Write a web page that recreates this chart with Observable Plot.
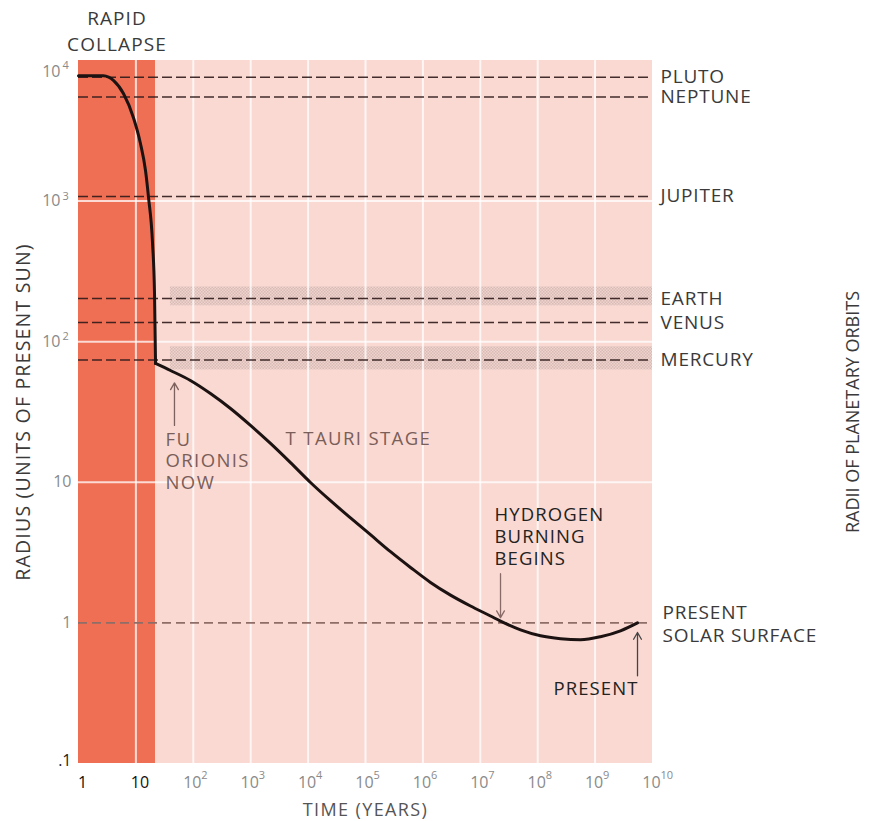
<!DOCTYPE html>
<html><head><meta charset="utf-8">
<script src="https://cdn.jsdelivr.net/npm/d3@7"></script>
<script src="https://cdn.jsdelivr.net/npm/@observablehq/plot@0.6"></script>
<style>
body{margin:0;background:#fff;}
</style></head><body><div id="chart"></div>
<script>
// ---- data ----
const phaseNames = ["RAPID\nCOLLAPSE", "CONTRACTION"];
const phaseStart = [1, 22];
const phaseEnd = [22, 1e10];

const collapseYears  = [1, 2, 2.7, 4.1, 6.1, 9.1, 12, 14.7, 16.6, 19.5, 21.1, 22];
const collapseRadius = [7800, 7800, 7780, 7200, 5800, 3900, 2570, 1650, 1060, 500, 220, 70];

const contractYears  = [22, 40, 89, 199, 445, 992, 2213, 4936, 11010, 24560, 54800, 122000, 272600, 608000, 1.357e6, 3.03e6, 6.75e6, 1.506e7, 2.25e7, 5.02e7, 1.12e8, 2.5e8, 5.57e8, 1.24e9, 2.77e9, 5.48e9];
const contractRadius = [70, 62.4, 53.0, 42.8, 33.5, 25.4, 18.9, 13.8, 9.97, 7.4, 5.58, 4.24, 3.21, 2.48, 1.94, 1.575, 1.318, 1.12, 1.03, 0.893, 0.81, 0.772, 0.759, 0.797, 0.878, 1.0];

const planets = ["PLUTO", "NEPTUNE", "JUPITER", "EARTH", "VENUS", "MERCURY"];
const orbitRadius = [7600, 5500, 1080, 203, 137, 74];

const bandNames = ["EARTH", "MERCURY"];
const bandLow = [180, 63];
const bandHigh = [245, 92];
const bandStartYears = [40, 40];

const solarSurface = [1];
const solarLabel = ["PRESENT\nSOLAR SURFACE"];

const xGridYears = [10, 1e2, 1e3, 1e4, 1e5, 1e6, 1e7, 1e8, 1e9];
const yGridRadius = [10, 100, 1000];

const xTickPlain = [1, 10];
const xTickPow = [2, 3, 4, 5, 6, 7, 8, 9, 10];
const yTickPlain = [1, 10];
const yTickPlainLabels = ["1", "10"];
const yTickDark = [0.1];
const yTickDarkLabels = [".1"];
const yTickPow = [2, 3];
const yTickTopPow = [4];

const noteMutedText = ["FU\nORIONIS\nNOW", "T TAURI STAGE"];
const noteMutedYears = [32.8, 4040];
const noteMutedRadius = [14.3, 20.8];
const noteDarkText = ["HYDROGEN\nBURNING\nBEGINS", "PRESENT"];
const noteDarkYears = [1.77e7, 1.88e8];
const noteDarkRadius = [4.18, 0.347];

const arrowYears = [47, 2.25e7, 5.48e9];
const arrowFrom = [25.4, 2.24, 0.42];
const arrowTo = [51, 1.09, 0.855];
const arrowColors = ["#7d615c", "#8a6a66", "#444444"];

const xTitle = "TIME (YEARS)";
const yTitle = "RADIUS (UNITS OF PRESENT SUN)";
const rightTitle = "RADII OF PLANETARY ORBITS";

// ---- build ----
const collapse = collapseYears.map((t, i) => ({t, r: collapseRadius[i]}));
const contract = contractYears.map((t, i) => ({t, r: contractRadius[i]}));
const bands = bandNames.map((n, i) => ({n, lo: bandLow[i], hi: bandHigh[i], t0: bandStartYears[i]}));
const idx = a => a.map((_, i) => i);

const axisGrey = "#8a8a8a";
const textGrey = "#3a3a3a";

const marks = [
  Plot.rect([0], {x1: i => phaseStart[i], x2: i => phaseEnd[i], y1: 0.1, y2: 1e4, fill: "#ef6f55"}),
  Plot.rect([1], {x1: i => phaseStart[i], x2: i => phaseEnd[i], y1: 0.1, y2: 1e4, fill: "#f9d9d2"}),
  Plot.rect(bands, {x1: "t0", x2: 1e10, y1: "lo", y2: "hi", fill: "url(#hatch)"}),
  Plot.ruleX(xGridYears, {y1: 0.1, y2: 1e4, stroke: "white", strokeWidth: 2, strokeOpacity: 0.75}),
  Plot.ruleY(yGridRadius, {x1: 1, x2: 1e10, stroke: "white", strokeWidth: 2, strokeOpacity: 0.75}),
  Plot.ruleY(orbitRadius, {x1: 1, x2: 1e10, stroke: "#2e1a1a", strokeWidth: 1.5, strokeDasharray: "10,4", strokeOpacity: 0.9}),
  Plot.ruleY(solarSurface, {x1: 1, x2: 1e10, stroke: "#8f6e68", strokeWidth: 1.6, strokeDasharray: "9,5"}),
  Plot.line(collapse, {x: "t", y: "r", curve: "monotone-x", stroke: "#1c1212", strokeWidth: 3}),
  Plot.line(contract, {x: "t", y: "r", curve: "monotone-x", stroke: "#1c1212", strokeWidth: 3}),
  ...idx(arrowYears).map(i => Plot.arrow([i], {x1: j => arrowYears[j], x2: j => arrowYears[j], y1: j => arrowFrom[j], y2: j => arrowTo[j], stroke: arrowColors[i], strokeWidth: 1.3, headLength: 9})),
  Plot.text(idx(noteMutedText), {x: i => noteMutedYears[i], y: i => noteMutedRadius[i], text: i => noteMutedText[i], textAnchor: "start", lineAnchor: "middle", fill: "#7a5e59", fontSize: 18.5, lineHeight: 1.17}),
  Plot.text(idx(noteDarkText), {x: i => noteDarkYears[i], y: i => noteDarkRadius[i], text: i => noteDarkText[i], textAnchor: "start", lineAnchor: "middle", fill: "#222", fontSize: 18.5, lineHeight: 1.19}),
  Plot.text(idx(planets), {x: 1e10, y: i => orbitRadius[i], text: i => planets[i], textAnchor: "start", lineAnchor: "middle", dx: 8, fill: textGrey, fontSize: 19}),
  Plot.text(solarSurface, {x: 1e10, y: d => d, text: () => solarLabel[0], textAnchor: "start", lineAnchor: "middle", dx: 10, fill: textGrey, fontSize: 19, lineHeight: 1.21}),
  Plot.text([0], {x: i => Math.sqrt(phaseStart[i] * phaseEnd[i]), frameAnchor: "top", lineAnchor: "middle", text: i => phaseNames[i], dy: -31, fill: textGrey, fontSize: 19, lineHeight: 1.37}),
  Plot.text(xTickPlain, {x: d => d, frameAnchor: "bottom", lineAnchor: "middle", text: d => String(d), dy: 19, dx: 4, fill: "#111", fontSize: 16}),
  Plot.text(xTickPow, {x: d => 10 ** d, frameAnchor: "bottom", lineAnchor: "middle", text: () => "10", dy: 19, dx: -1, fill: axisGrey, fontSize: 16}),
  Plot.text(xTickPow, {x: d => 10 ** d, frameAnchor: "bottom", lineAnchor: "middle", text: d => String(d), dy: 12, dx: 8, textAnchor: "start", fill: axisGrey, fontSize: 11}),
  Plot.text(yTickPlain, {y: d => d, frameAnchor: "left", lineAnchor: "middle", text: (d, i) => yTickPlainLabels[i], textAnchor: "end", dx: -7, fill: axisGrey, fontSize: 16}),
  Plot.text(yTickDark, {y: d => d, frameAnchor: "left", lineAnchor: "middle", text: (d, i) => yTickDarkLabels[i], textAnchor: "end", dx: -7, dy: -3, fill: "#222", fontSize: 16}),
  Plot.text(yTickPow, {y: d => 10 ** d, frameAnchor: "left", lineAnchor: "middle", text: () => "10", textAnchor: "end", dx: -18, fill: axisGrey, fontSize: 16}),
  Plot.text(yTickPow, {y: d => 10 ** d, frameAnchor: "left", lineAnchor: "middle", text: d => String(d), textAnchor: "start", dx: -16, dy: -5, fill: axisGrey, fontSize: 11}),
  Plot.text(yTickTopPow, {y: d => 10 ** d, frameAnchor: "left", lineAnchor: "middle", text: () => "10", textAnchor: "end", dx: -18, dy: 11, fill: axisGrey, fontSize: 16}),
  Plot.text(yTickTopPow, {y: d => 10 ** d, frameAnchor: "left", lineAnchor: "middle", text: d => String(d), textAnchor: "start", dx: -16, dy: 5, fill: axisGrey, fontSize: 11}),
  Plot.text([xTitle], {frameAnchor: "bottom", lineAnchor: "middle", textAnchor: "middle", text: d => d, dy: 47, fill: "#555", fontSize: 18}),
  Plot.text([yTitle], {frameAnchor: "left", lineAnchor: "middle", textAnchor: "middle", text: d => d, rotate: -90, dx: -55, fill: textGrey, fontSize: 19.5}),
  Plot.text([rightTitle], {frameAnchor: "right", lineAnchor: "middle", textAnchor: "middle", text: d => d, rotate: -90, dx: 201, fill: textGrey, fontSize: 18})
];

const svg = Plot.plot({
  width: 875,
  height: 821,
  marginTop: 60,
  marginBottom: 58,
  marginLeft: 78,
  marginRight: 223,
  x: {type: "log", domain: [1, 1e10], axis: null},
  y: {type: "log", domain: [0.1, 1e4], axis: null},
  style: {fontFamily: "'Open Sans', sans-serif", background: "white", overflow: "visible"},
  marks
});

// letter spacing to match the wide typeface of the original
const flat = s => s.replace(/\n/g, "");
const spacing = new Map();
planets.forEach(p => spacing.set(p, "0.8px"));
spacing.set(flat(solarLabel[0]), "0.8px");
spacing.set(flat(phaseNames[0]), "1.1px");
noteMutedText.forEach(t => spacing.set(flat(t), "1.4px"));
noteDarkText.forEach(t => spacing.set(flat(t), "1.1px"));
spacing.set(xTitle, "1.4px");
spacing.set(yTitle, "1.2px");
svg.querySelectorAll("text").forEach(el => {
  const s = spacing.get(el.textContent);
  if (s) el.style.letterSpacing = s;
});

const ns = "http://www.w3.org/2000/svg";
const defs = document.createElementNS(ns, "defs");
defs.innerHTML = '<pattern id="hatch" width="3" height="3" patternUnits="userSpaceOnUse">' +
  '<rect width="3" height="3" fill="#f2d2cc"/>' +
  '<rect width="1.5" height="1.5" fill="#d6bcb7"/>' +
  '<rect x="1.5" y="1.5" width="1.5" height="1.5" fill="#d6bcb7"/></pattern>';
svg.insertBefore(defs, svg.firstChild);
document.getElementById("chart").appendChild(svg);
</script>
</body></html>
